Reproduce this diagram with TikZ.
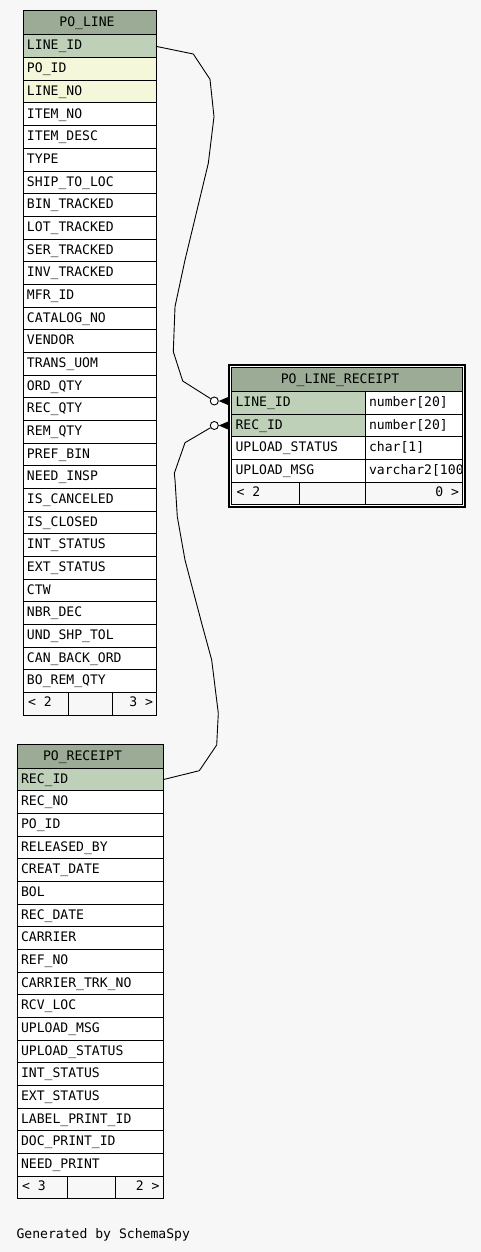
\documentclass[tikz,border=0pt]{standalone}
\usepackage{fontspec}
\newfontfamily\dm{DejaVu Sans Mono}
\definecolor{hdr}{HTML}{9BAB96}
\definecolor{pk}{HTML}{BED1B8}
\definecolor{idx}{HTML}{F4F7DA}
\definecolor{bg}{HTML}{F7F7F7}
\begin{document}
\begin{tikzpicture}[x=1pt,y=-1pt,
  font=\dm\fontsize{13.1}{15}\selectfont,
  cellbox/.style={draw=black, line width=1pt, inner sep=0pt, outer sep=0pt, anchor=north west, rectangle},
  celltext/.style={inner sep=0pt, outer sep=0pt, anchor=base west},
  righttext/.style={inner sep=0pt, outer sep=0pt, anchor=base east},
  headtext/.style={inner sep=0pt, outer sep=0pt, anchor=base},
  conn/.style={draw=black, line width=0.9pt, line join=round},
  opt/.style={circle, draw=black, fill=white, line width=0.9pt, minimum size=8pt, inner sep=0pt},
]
\fill[bg] (0,0) rectangle (481,1252);
\useasboundingbox (0,0) rectangle (481,1252);

% ---------------- PO_LINE ----------------
\node[cellbox, fill=hdr, minimum width=133pt, minimum height=24pt] (plh) at (23,11) {};
\node[headtext] (plh-t) at (87,27) {PO\_LINE};
\foreach [count=\i from 0] \n/\f in {LINE\_ID/pk, PO\_ID/idx, LINE\_NO/idx, ITEM\_NO/white, ITEM\_DESC/white, TYPE/white, SHIP\_TO\_LOC/white, BIN\_TRACKED/white, LOT\_TRACKED/white, SER\_TRACKED/white, INV\_TRACKED/white, MFR\_ID/white, CATALOG\_NO/white, VENDOR/white, TRANS\_UOM/white, ORD\_QTY/white, REC\_QTY/white, REM\_QTY/white, PREF\_BIN/white, NEED\_INSP/white, IS\_CANCELED/white, IS\_CLOSED/white, INT\_STATUS/white, EXT\_STATUS/white, CTW/white, NBR\_DEC/white, UND\_SHP\_TOL/white, CAN\_BACK\_ORD/white, BO\_REM\_QTY/white} {
  \pgfmathsetmacro\yy{35+\i*22.667}
  \node[cellbox, fill=\f, minimum width=133pt, minimum height=22.667pt] (pl-\i) at (23,\yy) {};
  \node[celltext] (pl-\i-t) at ([xshift=4pt,yshift=-15pt]pl-\i.north west) {\n};
}
\pgfmathsetmacro\yf{35+29*22.667}
\node[cellbox, fill=bg, minimum width=45pt, minimum height=22.667pt] (plf1) at (23,\yf) {};
\node[cellbox, fill=bg, minimum width=44pt, minimum height=22.667pt] (plf2) at (68,\yf) {};
\node[cellbox, fill=bg, minimum width=44pt, minimum height=22.667pt] (plf3) at (112,\yf) {};
\node[celltext] (plf1-t) at ([xshift=5pt,yshift=-14pt]plf1.north west) {< 2};
\node[righttext] (plf3-t) at ([xshift=-3pt,yshift=-14pt]plf3.north east) {3 >};

% ---------------- PO_RECEIPT ----------------
\node[cellbox, fill=hdr, minimum width=146pt, minimum height=24pt] (prh) at (17,744.3) {};
\node[headtext] (prh-t) at (82.5,760.3) {PO\_RECEIPT};
\foreach [count=\i from 0] \n/\f in {REC\_ID/pk, REC\_NO/white, PO\_ID/white, RELEASED\_BY/white, CREAT\_DATE/white, BOL/white, REC\_DATE/white, CARRIER/white, REF\_NO/white, CARRIER\_TRK\_NO/white, RCV\_LOC/white, UPLOAD\_MSG/white, UPLOAD\_STATUS/white, INT\_STATUS/white, EXT\_STATUS/white, LABEL\_PRINT\_ID/white, DOC\_PRINT\_ID/white, NEED\_PRINT/white} {
  \pgfmathsetmacro\yy{768.3+\i*22.667}
  \node[cellbox, fill=\f, minimum width=146pt, minimum height=22.667pt] (pr-\i) at (17,\yy) {};
  \node[celltext] (pr-\i-t) at ([xshift=4pt,yshift=-15pt]pr-\i.north west) {\n};
}
\pgfmathsetmacro\yg{768.3+18*22.667}
\node[cellbox, fill=bg, minimum width=50pt, minimum height=22.667pt] (prf1) at (17,\yg) {};
\node[cellbox, fill=bg, minimum width=48pt, minimum height=22.667pt] (prf2) at (67,\yg) {};
\node[cellbox, fill=bg, minimum width=48pt, minimum height=22.667pt] (prf3) at (115,\yg) {};
\node[celltext] (prf1-t) at ([xshift=5pt,yshift=-14.4pt]prf1.north west) {< 3};
\node[righttext] (prf3-t) at ([xshift=-3.5pt,yshift=-14.4pt]prf3.north east) {2 >};

% ---------------- PO_LINE_RECEIPT ----------------
\fill[white] (228,364) rectangle (466,508);
\node[cellbox, fill=hdr, minimum width=231pt, minimum height=24pt] (plrh) at (231.5,367.5) {};
\node[headtext] (plrh-t) at (340,383.5) {PO\_LINE\_RECEIPT};
\foreach [count=\i from 0] \n/\f/\t in {LINE\_ID/pk/{number[20]}, REC\_ID/pk/{number[20]}, UPLOAD\_STATUS/white/{char[1]}, UPLOAD\_MSG/white/{varchar2[100]}} {
  \pgfmathsetmacro\yy{391.5+\i*22.667}
  \node[cellbox, fill=\f, minimum width=133.5pt, minimum height=22.667pt] (plr-\i) at (231.5,\yy) {};
  \node[cellbox, fill=white, minimum width=97.5pt, minimum height=22.667pt] (plrt-\i) at (365,\yy) {};
  \node[celltext] (plr-\i-t) at ([xshift=4pt,yshift=-15pt]plr-\i.north west) {\n};
  \begin{scope}
    \clip (360,\yy) rectangle (465,\yy+22);
    \node[celltext] (plrt-\i-t) at ([xshift=4pt,yshift=-15pt]plrt-\i.north west) {\t};
  \end{scope}
}
\pgfmathsetmacro\yh{391.5+4*22.667}
\node[cellbox, fill=bg, minimum width=68pt, minimum height=22.667pt] (plrf1) at (231.5,\yh) {};
\node[cellbox, fill=bg, minimum width=65.5pt, minimum height=22.667pt] (plrf2) at (299.5,\yh) {};
\node[cellbox, fill=bg, minimum width=97.5pt, minimum height=22.667pt] (plrf3) at (365,\yh) {};
\node[celltext] (plrf1-t) at ([xshift=5pt,yshift=-14pt]plrf1.north west) {< 2};
\node[righttext] (plrf3-t) at ([xshift=-3.5pt,yshift=-14pt]plrf3.north east) {0 >};
\draw[line width=2.2pt] (229.2,365.2) rectangle (465.2,507);

% ---------------- connectors ----------------
\node[opt] (c1) at (214.3,401) {};
\node[opt] (c2) at (214.3,425.5) {};
\draw[conn] (pl-0.east) -- (193.3,54) -- (210,79.3) -- (214,116.7) -- (208.3,163.3) -- (185,260) -- (175,306.7) -- (173.3,351.7) -- (182.7,381) -- (c1);
\draw[conn] (pr-0.east) -- (199.3,770.7) -- (216.7,745) -- (218.3,713.3) -- (211.7,660) -- (201.7,623.3) -- (185,560) -- (177.3,516.7) -- (175,480) -- (174.3,473.3) -- (185,442.7) -- (c2);
\fill[black] (c1.east) -- ++(10.5,-4.5) -- ++(0,9) -- cycle;
\fill[black] (c2.east) -- ++(10.5,-4.5) -- ++(0,9) -- cycle;

% ---------------- footer ----------------
\node[celltext] (gen) at (16.5,1238.3) {Generated by SchemaSpy};
\end{tikzpicture}
\end{document}
